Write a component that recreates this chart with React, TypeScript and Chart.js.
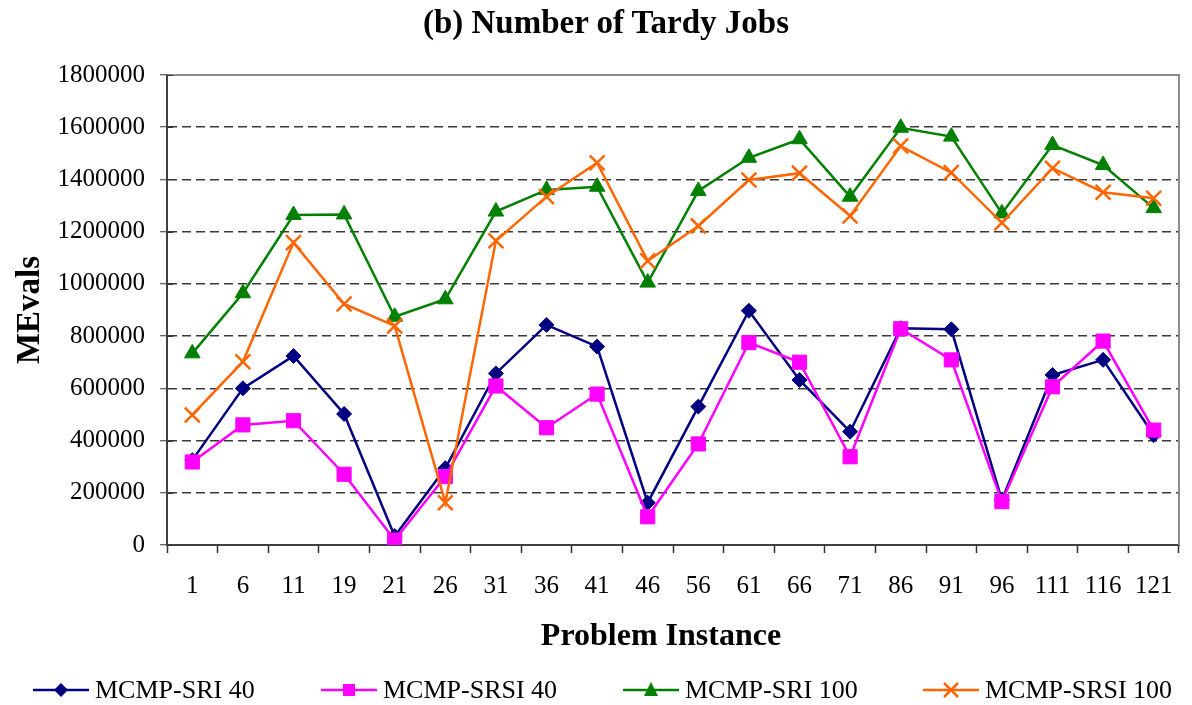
import React, { useEffect, useRef } from 'react';
import { Chart, registerables } from 'chart.js';

Chart.register(...registerables);

const categories = ['1', '6', '11', '19', '21', '26', '31', '36', '41', '46', '56', '61', '66', '71', '86', '91', '96', '111', '116', '121'];

const sri40 = [325000, 600000, 724000, 502000, 34000, 294000, 657000, 843000, 760000, 162000, 530000, 897000, 632000, 434000, 830000, 826000, 172000, 651000, 709000, 421000];
const srsi40 = [318000, 460000, 476000, 271000, 19000, 262000, 609000, 449000, 578000, 108000, 387000, 775000, 700000, 338000, 828000, 709000, 166000, 606000, 781000, 440000];
const sri100 = [734000, 964000, 1264000, 1266000, 874000, 941000, 1277000, 1360000, 1372000, 1005000, 1356000, 1483000, 1554000, 1334000, 1598000, 1564000, 1270000, 1532000, 1455000, 1290000];
const srsi100 = [498000, 702000, 1158000, 923000, 839000, 162000, 1165000, 1334000, 1464000, 1088000, 1222000, 1398000, 1424000, 1260000, 1528000, 1426000, 1234000, 1443000, 1351000, 1328000];

const seriesNames = ['MCMP-SRI 40', 'MCMP-SRSI 40', 'MCMP-SRI 100', 'MCMP-SRSI 100'];
const seriesColors = ['#000080', '#FF00FF', '#008000', '#FF6600'];

const yMax = 1800000;
const yStep = 200000;

const chartTitle = '(b) Number of Tardy Jobs';
const xTitle = 'Problem Instance';
const yTitle = 'MEvals';

const FONT = "'Liberation Serif', 'Times New Roman', serif";

const framePlugin = {
  id: 'frame',
  beforeDatasetsDraw(chart: any) {
    const { ctx, chartArea } = chart;
    const { left, right, top, bottom } = chartArea;
    ctx.save();
    ctx.strokeStyle = '#8c8c8c';
    ctx.lineWidth = 2;
    ctx.beginPath();
    ctx.moveTo(left, top);
    ctx.lineTo(right, top);
    ctx.lineTo(right, bottom);
    ctx.stroke();
    // inner half of y tick marks
    const ys = chart.scales.y;
    ctx.strokeStyle = '#333';
    ctx.lineWidth = 1;
    ys.ticks.forEach((t: any) => {
      const py = Math.round(ys.getPixelForValue(t.value)) + 0.5;
      ctx.beginPath();
      ctx.moveTo(left, py);
      ctx.lineTo(left + 6, py);
      ctx.stroke();
    });
    ctx.restore();
  },
};

function LegendMarker({ idx }: { idx: number }) {
  const c = seriesColors[idx];
  let marker: any = null;
  if (idx === 0) marker = <polygon points="21,10 28,3 35,10 28,17" fill={c} />;
  if (idx === 1) marker = <rect x={22} y={4} width={12} height={12} fill={c} />;
  if (idx === 2) marker = <polygon points="28,2 35,16 21,16" fill={c} />;
  if (idx === 3)
    marker = (
      <g stroke={c} strokeWidth={2.5}>
        <line x1={21} y1={3} x2={35} y2={17} />
        <line x1={35} y1={3} x2={21} y2={17} />
      </g>
    );
  return (
    <svg width={56} height={20} style={{ display: 'block' }}>
      <line x1={0} y1={10} x2={56} y2={10} stroke={c} strokeWidth={2.5} />
      {marker}
    </svg>
  );
}

const legendLefts = [33, 321, 623, 923];

function Legend() {
  return (
    <>
      {seriesNames.map((name, i) => (
        <div
          key={name}
          style={{
            position: 'absolute',
            left: legendLefts[i],
            top: 675,
            height: 30,
            display: 'flex',
            alignItems: 'center',
            fontFamily: FONT,
            fontSize: 26,
            color: '#000',
            whiteSpace: 'nowrap',
          }}
        >
          <LegendMarker idx={i} />
          <span style={{ marginLeft: 6 }}>{name}</span>
        </div>
      ))}
    </>
  );
}

export default function App() {
  const ref = useRef<HTMLCanvasElement>(null);

  useEffect(() => {
    const all = [sri40, srsi40, sri100, srsi100];
    const styles = ['rectRot', 'rect', 'triangle', 'crossRot'];
    const radii = [7.5, 10, 9, 10.5];
    const orders = [3, 2, 1, 0];
    const chart = new Chart(ref.current as HTMLCanvasElement, {
      type: 'line',
      data: {
        labels: categories,
        datasets: all.map((d, i) => ({
          label: seriesNames[i],
          data: d,
          borderColor: seriesColors[i],
          backgroundColor: seriesColors[i],
          borderWidth: 2.5,
          pointStyle: styles[i] as any,
          pointRadius: radii[i],
          pointBorderWidth: i === 3 ? 2.5 : 1,
          pointBackgroundColor: seriesColors[i],
          pointBorderColor: seriesColors[i],
          tension: 0,
          order: orders[i],
        })),
      },
      options: {
        responsive: false,
        animation: false,
        devicePixelRatio: 1,
        layout: { padding: { left: 0, right: 5, top: 75, bottom: 0 } },
        plugins: {
          legend: { display: false },
          tooltip: { enabled: false },
          title: { display: false },
        },
        scales: {
          x: {
            type: 'category',
            offset: true,
            grid: {
              offset: true,
              drawOnChartArea: false,
              drawTicks: true,
              tickLength: 8,
              tickColor: '#333',
              tickWidth: 1.5,
            },
            border: { color: '#404040', width: 2 },
            ticks: {
              color: '#000',
              font: { family: FONT, size: 25 },
              padding: 18,
              maxRotation: 0,
              autoSkip: false,
            },
            title: { display: false },
            afterFit(scale: any) {
              scale.height = 160;
            },
          },
          y: {
            min: 0,
            max: yMax,
            grid: {
              color: (ctx: any) =>
                ctx.tick && (ctx.tick.value === yMax || ctx.tick.value === 0) ? 'rgba(0,0,0,0)' : '#3a3a3a',
              lineWidth: 1.5,
              drawTicks: true,
              tickLength: 7,
              tickColor: '#333',
              tickWidth: 1,
              tickBorderDash: [],
            } as any,
            border: { color: '#404040', width: 2, dash: [9, 5] } as any,
            ticks: {
              stepSize: yStep,
              color: '#000',
              font: { family: FONT, size: 25 },
              padding: 15,
              callback: (v: any) => String(v),
            },
            title: {
              display: true,
              text: yTitle,
              color: '#000',
              font: { family: FONT, size: 33, weight: 'bold' },
              padding: { top: 11, bottom: 0 },
            },
            afterFit(scale: any) {
              scale.width = 167;
            },
          },
        },
      } as any,
      plugins: [framePlugin],
    });
    return () => chart.destroy();
  }, []);

  return (
    <div style={{ position: 'fixed', left: 0, top: 0, width: 1192, height: 705, background: '#fff' }}>
      <canvas ref={ref} width={1192} height={705} style={{ display: 'block', width: 1192, height: 705 }} />
      <div
        style={{
          position: 'absolute',
          left: 306,
          width: 600,
          top: 3,
          lineHeight: '38px',
          textAlign: 'center',
          fontFamily: FONT,
          fontWeight: 'bold',
          fontSize: 33,
          color: '#000',
          whiteSpace: 'nowrap',
        }}
      >
        {chartTitle}
      </div>
      <div
        style={{
          position: 'absolute',
          left: 461,
          width: 400,
          top: 615,
          lineHeight: '38px',
          textAlign: 'center',
          fontFamily: FONT,
          fontWeight: 'bold',
          fontSize: 32,
          color: '#000',
          whiteSpace: 'nowrap',
        }}
      >
        {xTitle}
      </div>
      <Legend />
    </div>
  );
}
